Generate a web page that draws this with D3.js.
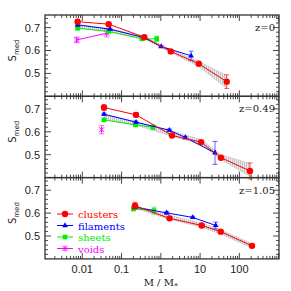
<!DOCTYPE html>
<html>
<head>
<meta charset="utf-8">
<script src="https://cdn.jsdelivr.net/npm/d3@7"></script>
<style>
  body { margin: 0; background: #fff; }
  svg text { fill: #222; }
</style>
</head>
<body>
<div id="chart"></div>
<script>
// data: [mass, S_med, error]
var clustersZ0  = [[0.0076, 0.726, 0.010], [0.047, 0.715, 0.008], [0.38, 0.658, 0.006], [1.79, 0.596, 0.005], [9.25, 0.542, 0.006], [47.7, 0.464, 0.030]];
var filamentsZ0 = [[0.0076, 0.712, 0.006], [0.051, 0.693, 0.005], [0.38, 0.656, 0.004], [1.02, 0.617, 0.004], [5.9, 0.577, 0.020]];
var sheetsZ0    = [[0.0076, 0.697, 0.006], [0.047, 0.683, 0.005], [0.33, 0.651, 0.005], [0.785, 0.651, 0.012]];
var voidsZ0     = [[0.0072, 0.646, 0.012], [0.042, 0.676, 0.017]];
var bandZ0      = [[0.0076, 0.700, 0.713], [0.047, 0.683, 0.697], [0.38, 0.650, 0.661], [1.8, 0.591, 0.604], [9.2, 0.530, 0.552], [47, 0.436, 0.492]];

var clustersZ1  = [[0.0357, 0.706, 0.012], [0.233, 0.674, 0.010], [1.93, 0.584, 0.006], [10.6, 0.555, 0.006], [34, 0.487, 0.008], [187, 0.429, 0.035]];
var filamentsZ1 = [[0.0357, 0.677, 0.005], [0.233, 0.642, 0.005], [1.65, 0.607, 0.005], [4.2, 0.575, 0.005], [24, 0.508, 0.050]];
var sheetsZ1    = [[0.0357, 0.652, 0.006], [0.227, 0.630, 0.006], [0.63, 0.620, 0.010]];
var voidsZ1     = [[0.031, 0.609, 0.018]];
var bandZ1      = [[0.0357, 0.655, 0.675], [0.233, 0.630, 0.645], [1.9, 0.580, 0.603], [10.6, 0.546, 0.566], [34, 0.478, 0.500], [187, 0.405, 0.462]];

var clustersZ2  = [[0.22, 0.632, 0.015], [1.67, 0.577, 0.006], [11, 0.546, 0.006], [33.6, 0.519, 0.006], [210, 0.457, 0.008]];
var filamentsZ2 = [[0.22, 0.626, 0.006], [1.41, 0.601, 0.005], [6.5, 0.581, 0.005], [25, 0.546, 0.015]];
var sheetsZ2    = [[0.2, 0.619, 0.010], [0.67, 0.611, 0.015]];
var voidsZ2     = [];
var bandZ2      = [[0.22, 0.620, 0.632], [1.6, 0.574, 0.592], [11, 0.538, 0.556], [33, 0.509, 0.527], [210, 0.448, 0.466]];

var panelLabels = ["z=0", "z=0.49", "z=1.05"];
var legendNames = ["clusters", "filaments", "sheets", "voids"];
var colors = ["#ff0000", "#0000ff", "#00ee00", "#ff00ff"];
var yTicks = [0.5, 0.6, 0.7];
var xTicks = [0.01, 0.1, 1, 10, 100];

var panels = [
  {label: panelLabels[0], series: [clustersZ0, filamentsZ0, sheetsZ0, voidsZ0], band: bandZ0},
  {label: panelLabels[1], series: [clustersZ1, filamentsZ1, sheetsZ1, voidsZ1], band: bandZ1},
  {label: panelLabels[2], series: [clustersZ2, filamentsZ2, sheetsZ2, voidsZ2], band: bandZ2}
];

var W = 291, H = 291;
var left = 45, right = 279, top0 = 15, panelH = 81.3;

var svg = d3.select("#chart").append("svg")
    .attr("width", W)
    .attr("height", H);

var defs = svg.append("defs");
var pat = defs.append("pattern")
    .attr("id", "hatch")
    .attr("patternUnits", "userSpaceOnUse")
    .attr("width", 2).attr("height", 2);
pat.append("rect").attr("width", 2).attr("height", 2).attr("fill", "#eeeeee");
pat.append("line").attr("x1", 0.5).attr("x2", 0.5).attr("y1", 0).attr("y2", 2)
    .attr("stroke", "#b0b0b0").attr("stroke-width", 0.7);

var x = d3.scaleLog()
    .domain([Math.pow(10, -2.95), Math.pow(10, 3.01)])
    .range([left, right]);

// minor + major x ticks
var xMajor = [], xMinor = [];
for (var e = -3; e <= 3; e++) {
  for (var m = 1; m < 10; m++) {
    var v = m * Math.pow(10, e);
    if (v < x.domain()[0] || v > x.domain()[1]) continue;
    (m == 1 ? xMajor : xMinor).push(v);
  }
}
var yMinor = d3.range(0.42, 0.76, 0.02).filter(function(v) {
  return Math.abs(v * 10 - Math.round(v * 10)) > 0.01;
});

function symbol(g, k, cx, cy, col) {
  if (k == 0) {
    g.append("circle").attr("cx", cx).attr("cy", cy).attr("r", 3.2).attr("fill", col);
  } else if (k == 1) {
    g.append("path").attr("transform", "translate(" + cx + "," + cy + ")")
      .attr("d", d3.symbol(d3.symbolTriangle, 14)).attr("fill", col);
  } else if (k == 2) {
    g.append("rect").attr("x", cx - 2.3).attr("y", cy - 2.3).attr("width", 4.6).attr("height", 4.6).attr("fill", col);
  } else {
    g.append("path").attr("transform", "translate(" + cx + "," + cy + ")")
      .attr("d", "M-2.5,-2.5L2.5,2.5M-2.5,2.5L2.5,-2.5M0,-3L0,3")
      .attr("stroke", col).attr("stroke-width", 1).attr("fill", "none");
  }
}

panels.forEach(function(p, i) {
  var y0 = top0 + i * panelH, y1 = y0 + panelH;
  var y = d3.scaleLinear().domain([0.4, 0.755]).range([y1, y0]);
  var g = svg.append("g");

  // grey hatched band
  var area = d3.area()
      .x(function(d) { return x(d[0]); })
      .y0(function(d) { return y(d[1]); })
      .y1(function(d) { return y(d[2]); });
  g.append("path").datum(p.band)
      .attr("d", area)
      .attr("fill", "url(#hatch)")
      .attr("stroke", "#bbb")
      .attr("stroke-width", 0.5);

  var line = d3.line()
      .x(function(d) { return x(d[0]); })
      .y(function(d) { return y(d[1]); });

  // draw in reverse so clusters are on top
  for (var k = 3; k >= 0; k--) {
    var s = p.series[k], col = colors[k];
    if (!s.length) continue;
    g.append("path").datum(s)
        .attr("d", line)
        .attr("fill", "none")
        .attr("stroke", col)
        .attr("stroke-width", 1);
    s.forEach(function(d) {
      var cx = x(d[0]);
      g.append("path")
          .attr("d", "M" + cx + "," + y(d[1] - d[2]) + "V" + y(d[1] + d[2]) +
                "M" + (cx - 2.5) + "," + y(d[1] - d[2]) + "H" + (cx + 2.5) +
                "M" + (cx - 2.5) + "," + y(d[1] + d[2]) + "H" + (cx + 2.5))
          .attr("stroke", col)
          .attr("stroke-opacity", 0.6)
          .attr("stroke-width", 1)
          .attr("fill", "none");
      symbol(g, k, cx, y(d[1]), col);
    });
  }

  // frame
  g.append("rect")
      .attr("x", left).attr("y", y0)
      .attr("width", right - left).attr("height", panelH)
      .attr("fill", "none").attr("stroke", "#333").attr("stroke-width", 1.3);

  // ticks (inward, all four sides)
  var tk = g.append("g").attr("stroke", "#333").attr("stroke-width", 0.9);
  xMajor.concat(xMinor).forEach(function(v) {
    var len = xMajor.indexOf(v) >= 0 ? 6 : 3, px = x(v);
    tk.append("line").attr("x1", px).attr("x2", px).attr("y1", y1).attr("y2", y1 - len);
    tk.append("line").attr("x1", px).attr("x2", px).attr("y1", y0).attr("y2", y0 + len);
  });
  yTicks.concat(yMinor).forEach(function(v) {
    var len = yTicks.indexOf(v) >= 0 ? 6 : 3, py = y(v);
    tk.append("line").attr("x1", left).attr("x2", left + len).attr("y1", py).attr("y2", py);
    tk.append("line").attr("x1", right).attr("x2", right - len).attr("y1", py).attr("y2", py);
  });

  yTicks.forEach(function(v) {
    g.append("text")
        .attr("x", left - 5).attr("y", y(v) + 4)
        .attr("text-anchor", "end")
        .style("font", "11px 'Liberation Sans', Arial, sans-serif")
        .text(d3.format(".1f")(v));
  });

  g.append("text")
      .attr("x", 275).attr("y", y0 + 16)
      .attr("text-anchor", "end")
      .style("font", "10px 'DejaVu Serif', serif")
      .text(p.label);

  // y axis label
  var yl = g.append("text")
      .attr("transform", "translate(16," + (y(0.6)) + ") rotate(-90)")
      .attr("text-anchor", "middle")
      .style("font", "10px 'DejaVu Sans', sans-serif");
  yl.append("tspan").text("S");
  yl.append("tspan").attr("dy", 2.5).style("font-size", "7px").text("med");
});

// x tick labels
var yBottom = top0 + 3 * panelH;
xTicks.forEach(function(v) {
  svg.append("text")
      .attr("x", x(v)).attr("y", yBottom + 14)
      .attr("text-anchor", "middle")
      .style("font", "11px 'Liberation Sans', Arial, sans-serif")
      .text(v < 1 ? String(v) : d3.format("d")(v));
});
var xl = svg.append("text")
    .attr("x", x(1)).attr("y", yBottom + 27)
    .attr("text-anchor", "middle")
    .style("font", "10px 'DejaVu Serif', serif");
xl.append("tspan").text("M / M");
xl.append("tspan").attr("dy", 3).style("font-size", "8px").text("*");

// legend in bottom panel
var lg = svg.append("g");
legendNames.forEach(function(name, k) {
  var ly = 214 + k * 11.5;
  lg.append("line").attr("x1", 57).attr("x2", 73).attr("y1", ly).attr("y2", ly)
      .attr("stroke", colors[k]).attr("stroke-width", 1);
  symbol(lg, k, 65, ly, colors[k]);
  lg.append("text")
      .attr("x", 78).attr("y", ly + 4)
      .style("font", "10px 'DejaVu Serif', serif")
      .style("fill", colors[k])
      .text(name);
});
</script>
</body>
</html>
